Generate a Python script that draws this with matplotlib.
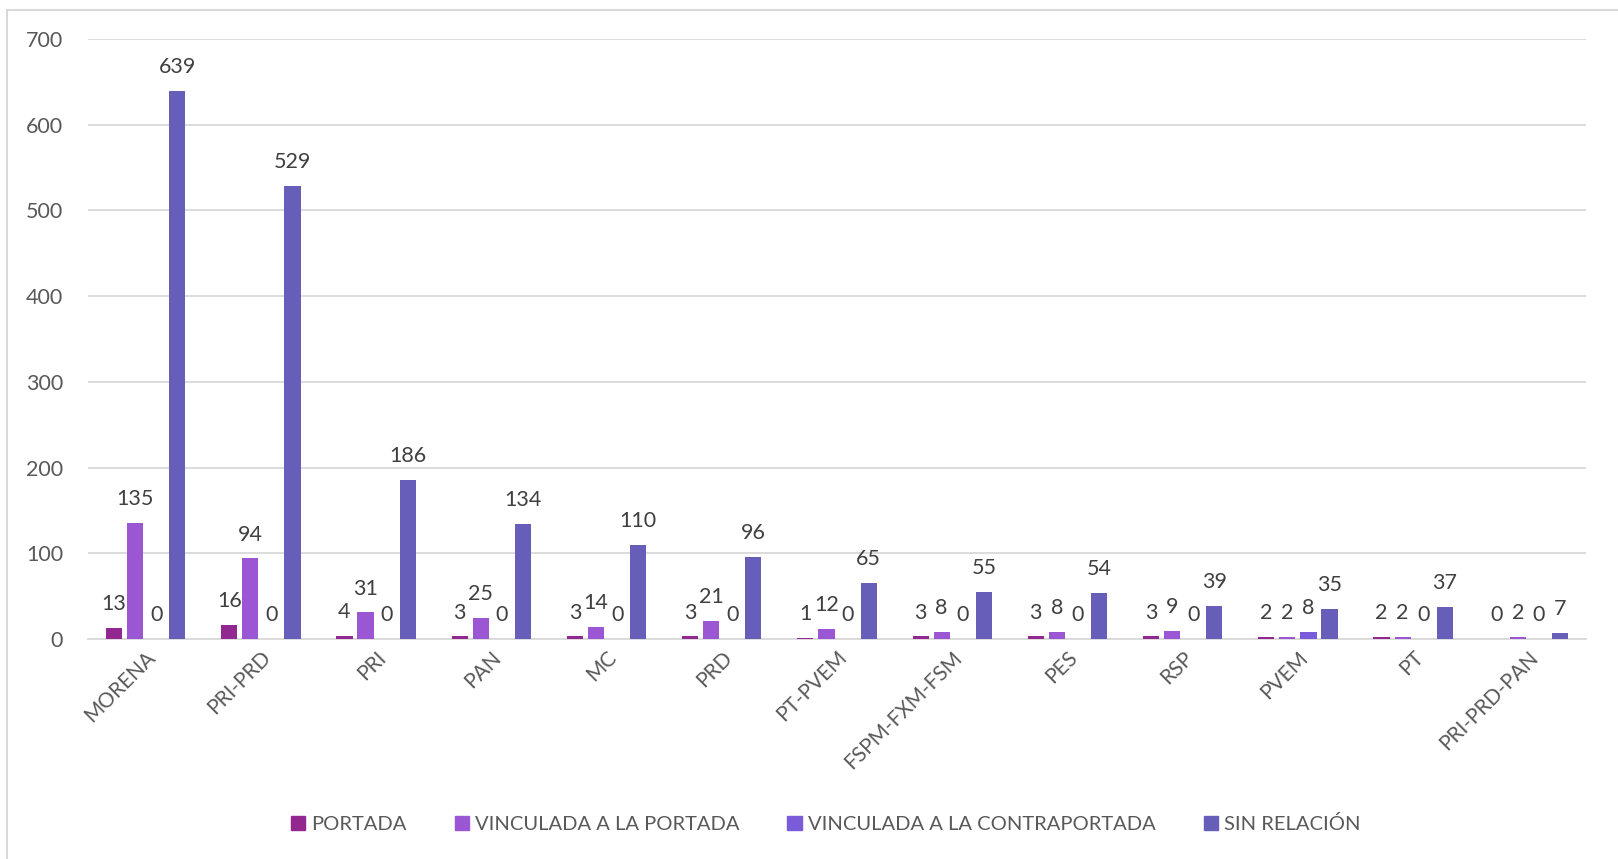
import matplotlib
matplotlib.use("Agg")
import matplotlib.pyplot as plt
import numpy as np
from matplotlib.patches import Rectangle

categories = ["MORENA", "PRI-PRD", "PRI", "PAN", "MC", "PRD", "PT-PVEM",
              "FSPM-FXM-FSM", "PES", "RSP", "PVEM", "PT", "PRI-PRD-PAN"]
series_names = ["PORTADA", "VINCULADA A LA PORTADA",
                "VINCULADA A LA CONTRAPORTADA", "SIN RELACIÓN"]
portada = [13, 16, 4, 3, 3, 3, 1, 3, 3, 3, 2, 2, 0]
vinculada_portada = [135, 94, 31, 25, 14, 21, 12, 8, 8, 9, 2, 2, 2]
vinculada_contraportada = [0, 0, 0, 0, 0, 0, 0, 0, 0, 0, 8, 0, 0]
sin_relacion = [639, 529, 186, 134, 110, 96, 65, 55, 54, 39, 35, 37, 7]
yticks = [0, 100, 200, 300, 400, 500, 600, 700]

colors = ["#92278F", "#9B57D3", "#7A5CDB", "#665EB8"]
series = [portada, vinculada_portada, vinculada_contraportada, sin_relacion]

plt.rcParams['font.family'] = ['Lato', 'DejaVu Sans']

fig = plt.figure(figsize=(16.18, 8.59), dpi=100)
ax = fig.add_axes([88/1618, 1-639/859, (1586-88)/1618, (639-39)/859])

# outer frame
fig.patches.append(Rectangle((7/1618, -0.1), 1.2, 1-10/859+0.1, transform=fig.transFigure,
                             fill=False, edgecolor="#d9d9d9", linewidth=1.5))

x = np.arange(len(categories))
step = 0.183
width = 0.14
offsets = (np.arange(4) - 1.5) * step
for i, (vals, c, name) in enumerate(zip(series, colors, series_names)):
    ax.bar(x + offsets[i], vals, width=width, color=c, label=name, zorder=3)
    for xi, v in zip(x + offsets[i], vals):
        ax.annotate(str(v), (xi, v), xytext=(0, 10), textcoords="offset points",
                    ha="center", va="bottom", fontsize=15.5, color="#404040")

ax.set_xlim(-0.5, len(categories) - 0.5)
ax.set_ylim(0, 700)
ax.set_yticks(yticks)
ax.set_yticklabels([str(t) for t in yticks], fontsize=15.5, color="#595959")
ax.yaxis.grid(True, color="#d9d9d9", linewidth=1.3, zorder=0)
ax.set_axisbelow(True)
for s in ["top", "right", "left"]:
    ax.spines[s].set_visible(False)
ax.spines["bottom"].set_color("#d9d9d9")
ax.spines["bottom"].set_linewidth(1.3)
ax.tick_params(axis="y", length=0, pad=18)
ax.tick_params(axis="x", length=0, pad=6)
ax.set_xticks(x)
ax.set_xticklabels(categories, rotation=45, ha="right", rotation_mode="anchor",
                   fontsize=15, color="#595959")

handles = [Rectangle((0, 0), 1, 1, color=c) for c in colors]
fig.legend(handles, series_names, loc="center", bbox_to_anchor=(800/1568, 1-824/859),
           ncol=4, frameon=False, fontsize=14.5, handlelength=0.7, handleheight=0.7,
           handletextpad=0.3, columnspacing=2.4, labelcolor="#595959")

fig.savefig("out.png", dpi=100)
